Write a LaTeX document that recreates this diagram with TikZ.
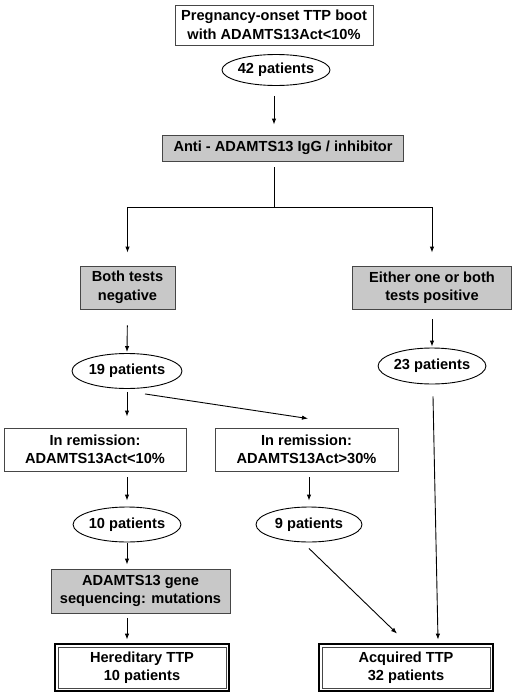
\documentclass[tikz,border=0pt]{standalone}
\usepackage{fontspec}
\setmainfont{Liberation Sans}
\usetikzlibrary{arrows.meta,calc,shapes.geometric}
\definecolor{boxgray}{RGB}{200,200,200}
\definecolor{edgegray}{RGB}{70,70,70}
\begin{document}
\begin{tikzpicture}[x=1pt,y=-1pt,
  every node/.style={font=\bfseries\fontsize{14.6}{18.5}\selectfont,align=center,inner sep=0pt},
  plainbox/.style={draw=edgegray,line width=0.9pt,fill=white,rectangle},
  graybox/.style={draw=edgegray,line width=0.9pt,fill=boxgray,rectangle},
  oval/.style={draw=black,line width=0.9pt,ellipse},
  finalbox/.style={draw=black,line width=2.8pt,rectangle,fill=white},
  innerline/.style={draw=edgegray,line width=0.8pt},
  arr/.style={draw=black,line width=0.9pt,-{Latex[length=6pt,width=4.5pt]}},
  ln/.style={draw=black,line width=0.9pt}]
\useasboundingbox (0,0) rectangle (520,696);
\fill[white] (0,0) rectangle (520,696);

\node[plainbox,minimum width=198,minimum height=40] (top) at (274,25) {Pregnancy-onset TTP boot\\with ADAMTS13Act<10\%};
\node[oval,minimum width=108,minimum height=31] (e42) at (276,70) {42 patients};
\node[graybox,minimum width=241,minimum height=26] (anti) at (283,148) {Anti - ADAMTS13 IgG / inhibitor};
\coordinate (sp) at (274,207);
\node[graybox,minimum width=95,minimum height=43] (neg) at (127.5,287.5) {Both tests\\negative};
\node[graybox,minimum width=159,minimum height=43] (pos) at (432,287.5) {Either one or both\\tests positive};
\node[oval,minimum width=110,minimum height=35] (e19) at (127,371) {19 patients};
\node[oval,minimum width=107,minimum height=36] (e23) at (432,366) {23 patients};
\node[plainbox,minimum width=182,minimum height=43] (rem1) at (95,449.5) {In remission:\\ADAMTS13Act<10\%};
\node[plainbox,minimum width=183,minimum height=43] (rem2) at (306.5,449.5) {In remission:\\ADAMTS13Act>30\%};
\node[oval,minimum width=106,minimum height=35] (e10) at (127,524.5) {10 patients};
\node[oval,minimum width=106,minimum height=35] (e9) at (309,524.5) {9 patients};
\node[graybox,minimum width=179,minimum height=44] (gene) at (140.5,591) {ADAMTS13 gene\\sequencing: mutations};
\node[finalbox,minimum width=174,minimum height=47] (her) at (142,667.5) {Hereditary TTP\\10 patients};
\node[finalbox,minimum width=174,minimum height=47] (acq) at (406,667.5) {Acquired TTP\\32 patients};
\foreach \n in {her,acq}
  \draw[innerline] ($(\n.north west)+(4.5,4.5)$) rectangle ($(\n.south east)+(-4.5,-4.5)$);

% connectors
\draw[arr,shorten <=10pt,shorten >=10pt] ([xshift=-2]e42.south) -- ([xshift=-2]e42.south |- anti.north);
\draw[ln,shorten <=6pt] (anti.south -| sp) -- (sp);
\draw[arr,shorten >=13pt] (sp) -| (neg.north);
\draw[arr,shorten >=13pt] (sp) -| (pos.north);
\draw[arr,shorten <=16pt,shorten >=1pt] (neg.south) -- (e19.north);
\draw[arr,shorten <=10pt,shorten >=1pt] (pos.south) -- (e23.north);
\draw[arr,shorten <=3pt,shorten >=11pt] (e19.south) -- (e19.south |- rem1.north);
\coordinate (d1s) at ($(e19.south)+(18,5)$);
\coordinate (d1e) at ($(rem2.north -| e9)+(-1,-9)$);
\draw[arr] (d1s) -- (d1e);
\draw[arr,shorten <=6pt,shorten >=6pt] (rem1.south -| e10) -- (e10.north);
\draw[arr,shorten <=6pt,shorten >=6pt] (rem2.south -| e9) -- (e9.north);
\draw[arr,shorten <=1pt,shorten >=4pt] (e10.south) -- (e10.south |- gene.north);
\draw[arr,shorten <=5pt,shorten >=3pt] (gene.south -| e10) -- (her.north -| e10);
\coordinate (d2s) at ($(e9.south)+(0,6)$);
\coordinate (d2e) at ($(acq.north)+(-9,-9)$);
\draw[arr] (d2s) -- (d2e);
\coordinate (d3s) at ($(e23.south)+(1,12)$);
\coordinate (d3e) at ($(acq.north)+(32,-3)$);
\draw[arr] (d3s) -- (d3e);
\end{tikzpicture}
\end{document}
